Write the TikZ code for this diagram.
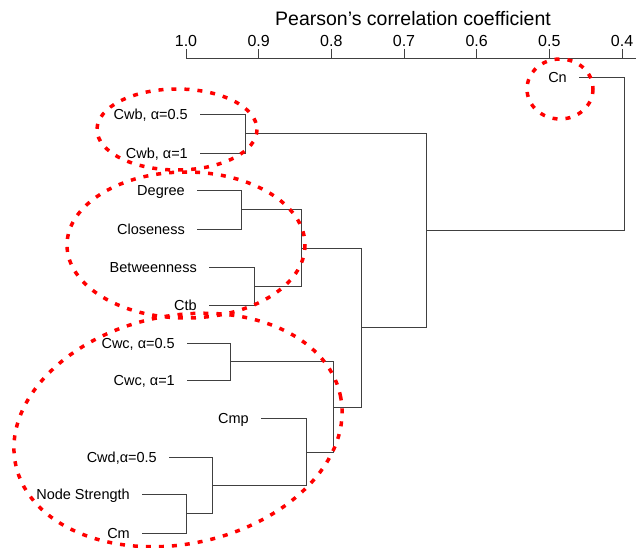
\documentclass[tikz,border=0pt]{standalone}
\usepackage{fontspec}
\setmainfont{Liberation Sans}
\usetikzlibrary{positioning}

\begin{document}
\begin{tikzpicture}[x=1pt, y=-1pt,
    leaf/.style={anchor=east, inner sep=0pt, font=\fontsize{14.5}{16}\selectfont, text height=10.4pt, text depth=0pt},
    tick/.style={anchor=base, inner sep=0pt, font=\fontsize{16}{18}\selectfont},
    branch/.style={draw=black!75, line width=0.8pt},
    elbow/.style={to path={-| (\tikztotarget)}},
    group/.style={draw=red, line width=3.5pt, dash pattern=on 5pt off 8pt}]
\useasboundingbox (0,0) rectangle (637,548);
\node[anchor=base, inner sep=0pt, font=\fontsize{19.5}{22}\selectfont] (title) at (413,26) {Pearson’s correlation coefficient};
\draw[branch] (186,58) -- (636,58);
\foreach \r [count=\i from 0] in {1.0,0.9,0.8,0.7,0.6,0.5,0.4} {
  \draw[branch] (186+72.67*\i,49) -- (186+72.67*\i,58);
  \node[tick] (tick\i) at (186+72.67*\i,47) {\r};
}
\node[leaf] (cn) at (567,77) {Cn};
\node[leaf] (cwba) at (188,114) {Cwb, α=0.5};
\node[leaf] (cwbb) at (188,153) {Cwb, α=1};
\node[leaf] (degree) at (185,190) {Degree};
\node[leaf] (closeness) at (185,229) {Closeness};
\node[leaf] (betweenness) at (197,267) {Betweenness};
\node[leaf] (ctb) at (197,305) {Ctb};
\node[leaf] (cwca) at (175,343) {Cwc, α=0.5};
\node[leaf] (cwcb) at (175,380) {Cwc, α=1};
\node[leaf] (cmp) at (249,418) {Cmp};
\node[leaf] (cwd) at (157,457) {Cwd,α=0.5};
\node[leaf] (strength) at (130,494) {Node Strength};
\node[leaf] (cm) at (130,533) {Cm};
\coordinate (mcwb) at (245,133.5);
\coordinate (mdc) at (241,209.5);
\coordinate (mbc) at (254,286);
\coordinate (mdcbc) at (301,248);
\coordinate (mcwc) at (230,361.5);
\coordinate (mnc) at (186,513.5);
\coordinate (mwnc) at (212,485);
\coordinate (mcmp) at (306,452);
\coordinate (mlow) at (333,407);
\coordinate (mmid) at (361,327.5);
\coordinate (mall) at (426,230.5);
\coordinate (mroot) at (624,154);
\draw[branch]
([xshift=12pt]cwba.east) edge[elbow] (mcwb)
([xshift=12pt]cwbb.east) edge[elbow] (mcwb)
([xshift=12pt]degree.east) edge[elbow] (mdc)
([xshift=12pt]closeness.east) edge[elbow] (mdc)
([xshift=12pt]betweenness.east) edge[elbow] (mbc)
([xshift=12pt]ctb.east) edge[elbow] (mbc)
(mdc) edge[elbow] (mdcbc)
(mbc) edge[elbow] (mdcbc)
([xshift=12pt]cwca.east) edge[elbow] (mcwc)
([xshift=12pt]cwcb.east) edge[elbow] (mcwc)
([xshift=12pt]strength.east) edge[elbow] (mnc)
([xshift=12pt]cm.east) edge[elbow] (mnc)
([xshift=12pt]cwd.east) edge[elbow] (mwnc)
(mnc) edge[elbow] (mwnc)
([xshift=12pt]cmp.east) edge[elbow] (mcmp)
(mwnc) edge[elbow] (mcmp)
(mcwc) edge[elbow] (mlow)
(mcmp) edge[elbow] (mlow)
(mdcbc) edge[elbow] (mmid)
(mlow) edge[elbow] (mmid)
(mcwb) edge[elbow] (mall)
(mmid) edge[elbow] (mall)
([xshift=12pt]cn.east) edge[elbow] (mroot)
(mall) edge[elbow] (mroot);
\draw[group] (560,89) ellipse [x radius=33, y radius=30];
\draw[group] (177,129.5) ellipse [x radius=80, y radius=40.5];
\draw[group] (186,245) ellipse [x radius=119, y radius=73];
\draw[group, rotate around={12:(178,430)}] (178,430) ellipse [x radius=166, y radius=114];
\end{tikzpicture}
\end{document}
